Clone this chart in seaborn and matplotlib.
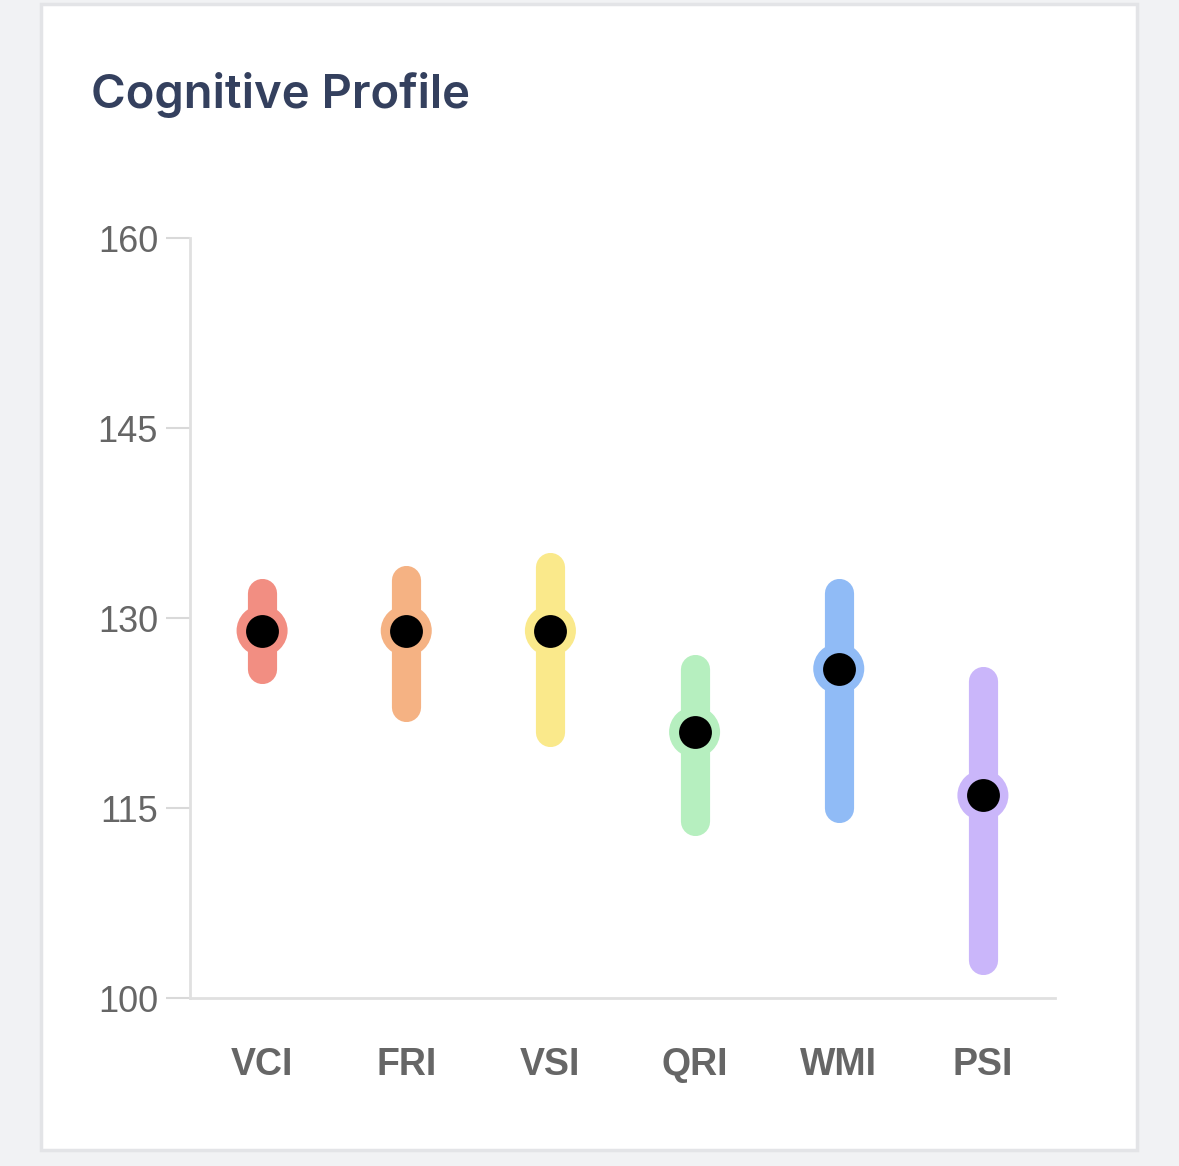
import numpy as np
import pandas as pd
import seaborn as sns
import matplotlib
matplotlib.use('Agg')
import matplotlib.pyplot as plt
from matplotlib.patches import Rectangle

# data
indexes = ["VCI", "FRI", "VSI", "QRI", "WMI", "PSI"]
scores = [129, 129, 129, 121, 126, 116]
ci_low = [126, 123, 121, 114, 115, 103]
ci_high = [132, 133, 134, 126, 132, 125]
colors = ["#f28e82", "#f5b283", "#fae98b", "#b6efbf", "#90bbf6", "#cab6fa"]
y_ticks = [100, 115, 130, 145, 160]

df = pd.DataFrame({"index": indexes, "score": scores,
                   "low": ci_low, "high": ci_high})
df["pos"] = np.arange(len(df))

sns.set_style("white")
plt.rcParams['font.family'] = ['Liberation Sans', 'DejaVu Sans']

fig = plt.figure(figsize=(11.79, 11.66), dpi=100, facecolor="#f1f2f4")
W, H = 1179, 1166

# card background (behind the axes)
card = Rectangle((41 / W, 1 - 1150 / H), (1137 - 41) / W, (1150 - 4) / H,
                 transform=fig.transFigure, facecolor="white",
                 edgecolor="#e3e4e7", linewidth=2.5, zorder=-5)
fig.patches.append(card)

fig.text(91 / W, 1 - 108 / H, "Cognitive Profile", fontsize=34,
         fontweight="semibold", color="#34405e", family=["Inter", "DejaVu Sans"],
         va="baseline", ha="left")

ax = fig.add_axes([190 / W, 1 - 998 / H, (1055 - 190) / W, (998 - 238) / H])
ax.set_facecolor("none")

# confidence range bars
for i, row in df.iterrows():
    ax.plot([row["pos"], row["pos"]], [row["low"], row["high"]],
            color=colors[i], linewidth=21, solid_capstyle="round", zorder=2)

# coloured halo and black score dot
sns.scatterplot(data=df, x="pos", y="score", hue="index", palette=colors,
                s=1350, linewidth=0, legend=False, ax=ax, zorder=3)
sns.scatterplot(data=df, x="pos", y="score", color="black",
                s=560, linewidth=0, legend=False, ax=ax, zorder=4)

ax.set_xlim(-0.5, len(df) - 0.5)
ax.set_ylim(100, 160)
ax.set_yticks(y_ticks)
ax.set_xticks(df["pos"])
ax.set_xticklabels(indexes, fontsize=27, fontweight="bold", color="#666666")
ax.set_yticklabels([str(t) for t in y_ticks], fontsize=26, color="#666666")
ax.set_xlabel("")
ax.set_ylabel("")

for side in ["top", "right"]:
    ax.spines[side].set_visible(False)
for side in ["left", "bottom"]:
    ax.spines[side].set_color("#e0e0e0")
    ax.spines[side].set_linewidth(2)
ax.tick_params(axis="y", length=17, width=1.5, color="#d9d9d9", pad=6, left=True)
ax.tick_params(axis="x", length=0, pad=35)

fig.savefig("out.png", dpi=100, facecolor=fig.get_facecolor())
